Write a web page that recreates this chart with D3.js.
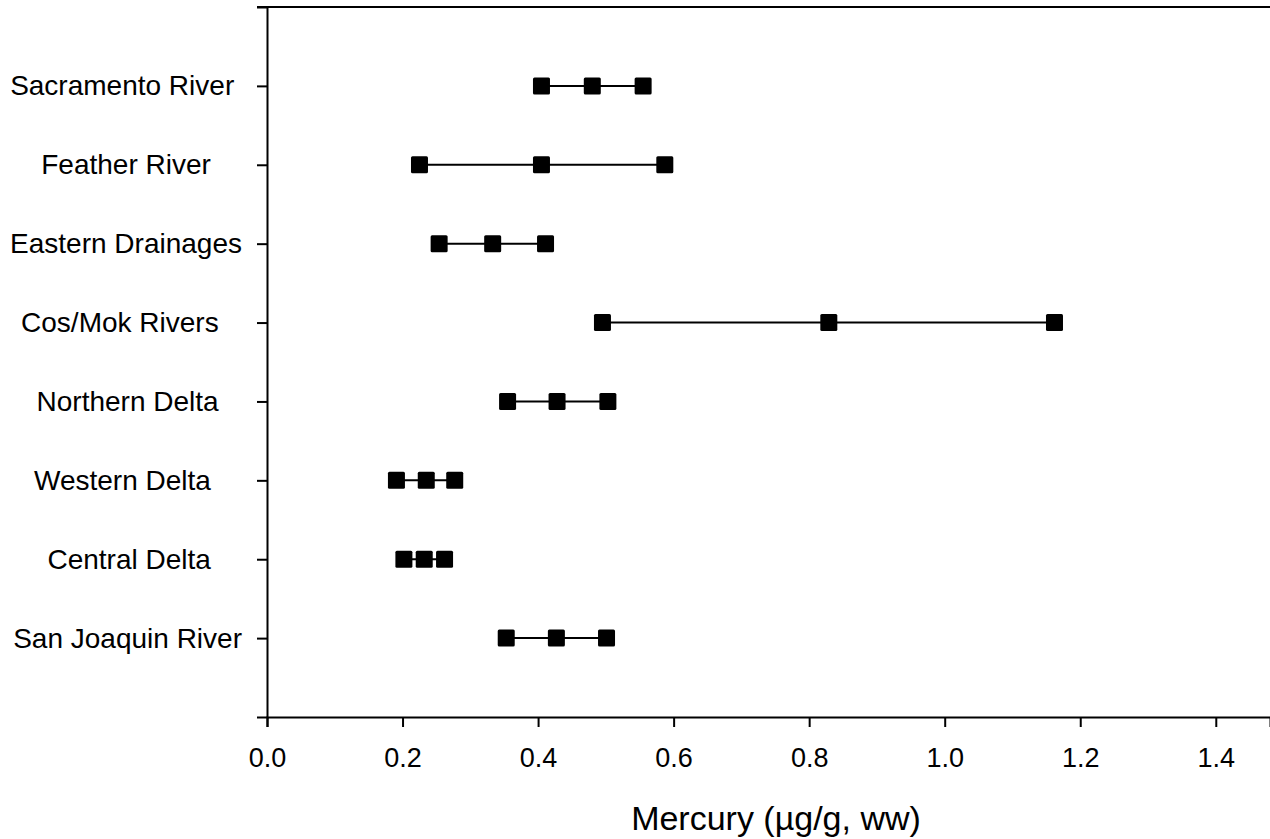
<!DOCTYPE html>
<html>

<head>
    <meta charset="utf-8">
    <style>
        body {
            margin: 0;
            background: #fff;
        }

        svg {
            font-family: 'Liberation Sans', Arial, sans-serif;
        }

        .axis .domain,
        .axis .tick line {
            stroke: #000;
            stroke-width: 2px;
        }

        .y .tick text {
            font-size: 28px;
            fill: #000;
            white-space: pre;
        }

        .x .tick text {
            font-size: 27px;
            fill: #000;
        }
    </style>
</head>

<body>
    <svg width="1270" height="839"></svg>
</body>

<script src="https://d3js.org/d3.v7.min.js"></script>

<script>
    // labels keep the trailing spaces from the original figure
    let sites = ["Sacramento River ", "Feather River    ", "Eastern Drainages", "Cos/Mok Rivers   ",
        "Northern Delta   ", "Western Delta    ", "Central Delta    ", "San Joaquin River"]
    let lowVals = [0.405, 0.225, 0.254, 0.495, 0.355, 0.191, 0.202, 0.353]
    let midVals = [0.480, 0.405, 0.333, 0.829, 0.428, 0.235, 0.232, 0.427]
    let highVals = [0.555, 0.587, 0.411, 1.162, 0.503, 0.277, 0.262, 0.501]
    let xTicks = [0, 0.2, 0.4, 0.6, 0.8, 1.0, 1.2, 1.4]
    let xTitle = "Mercury (µg/g, ww)"

    let svg = d3.select("svg")

    let margin = { top: 7, right: 0, bottom: 122, left: 267 }
    let width = 1270
    let height = 839

    let x = d3.scaleLinear()
        .domain([0, 1.48])
        .range([margin.left, width - margin.right])

    let y = d3.scalePoint()
        .domain(sites)
        .range([margin.top, height - margin.bottom])
        .padding(1)

    let data = sites.map(function (s, i) {
        return { site: s, vals: [lowVals[i], midVals[i], highVals[i]] }
    })

    // top border line
    svg.append("line")
        .attr("x1", margin.left - 10)
        .attr("x2", width)
        .attr("y1", margin.top)
        .attr("y2", margin.top)
        .style("stroke", "#000")
        .style("stroke-width", "2px")

    let yAxisSettings = d3.axisLeft(y)
        .tickSize(10)
        .tickPadding(15)

    let xAxisSettings = d3.axisBottom(x)
        .tickValues(xTicks)
        .tickFormat(d3.format(".1f"))
        .tickSize(10)
        .tickPadding(21)

    svg.append("g")
        .attr("class", "y axis")
        .attr("transform", `translate(${margin.left},0)`)
        .call(yAxisSettings)

    svg.append("g")
        .attr("class", "x axis")
        .attr("transform", `translate(0,${height - margin.bottom})`)
        .call(xAxisSettings)

    svg.append("text")
        .attr("x", 776)
        .attr("y", 830)
        .attr("text-anchor", "middle")
        .style("font-size", "34px")
        .text(xTitle)

    let rows = svg.append("g")
        .selectAll("g")
        .data(data)
        .join("g")
        .attr("transform", d => `translate(0,${y(d.site)})`)

    rows.append("line")
        .attr("x1", d => x(d3.min(d.vals)))
        .attr("x2", d => x(d3.max(d.vals)))
        .style("stroke", "#000")
        .style("stroke-width", "2px")

    let size = 17
    rows.selectAll("rect")
        .data(d => d.vals)
        .join("rect")
        .attr("x", d => x(d) - size / 2)
        .attr("y", -size / 2)
        .attr("width", size)
        .attr("height", size)
        .attr("rx", 1.5)
        .style("fill", "#000")
</script>

</html>
